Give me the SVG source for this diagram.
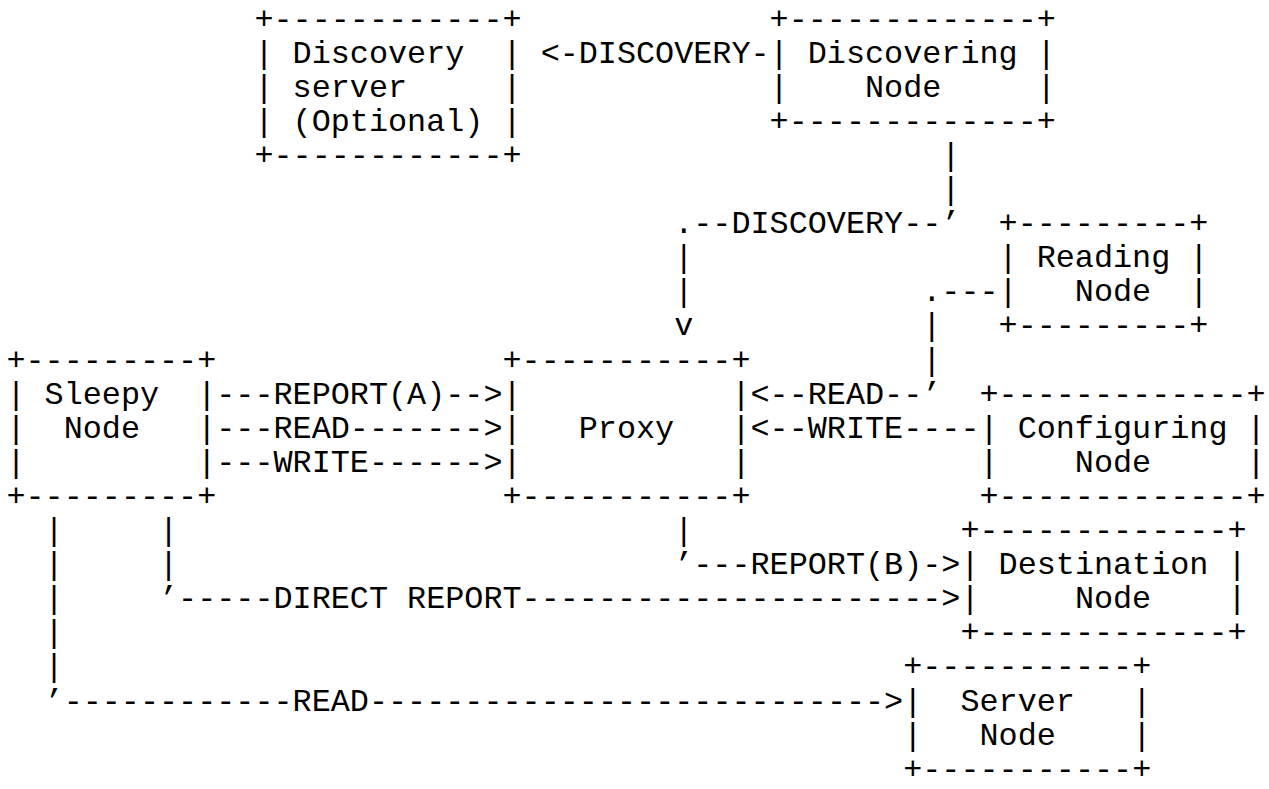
<svg xmlns="http://www.w3.org/2000/svg" width="1269" height="789" viewBox="0 0 1269 789" xml:space="preserve">
<style>
text { font-family: "Liberation Mono", "DejaVu Sans Mono", monospace; font-size: 31.8px; fill: #000; white-space: pre; }
</style>
<rect x="0" y="0" width="1269" height="789" fill="#fff"/>
<g id="discovery-server">
<text x="254.44" y="28.5">+------------+</text>
<text x="254.44" y="62.6">| Discovery  |</text>
<text x="254.44" y="96.7">| server     |</text>
<text x="254.44" y="130.8">| (Optional) |</text>
<text x="254.44" y="164.9">+------------+</text>
</g>
<g id="discovering-node">
<text x="769.6" y="28.5">+-------------+</text>
<text x="769.6" y="62.6">| Discovering |</text>
<text x="769.6" y="96.7">|    Node     |</text>
<text x="769.6" y="130.8">+-------------+</text>
</g>
<g id="reading-node">
<text x="998.56" y="233.1">+---------+</text>
<text x="998.56" y="267.2">| Reading |</text>
<text x="998.56" y="301.3">|   Node  |</text>
<text x="998.56" y="335.4">+---------+</text>
</g>
<g id="sleepy-node">
<text x="6.4" y="369.5">+---------+</text>
<text x="6.4" y="403.6">| Sleepy  |</text>
<text x="6.4" y="437.7">|  Node   |</text>
<text x="6.4" y="471.8">|         |</text>
<text x="6.4" y="505.9">+---------+</text>
</g>
<g id="proxy">
<text x="502.48" y="369.5">+-----------+</text>
<text x="502.48" y="403.6">|           |</text>
<text x="502.48" y="437.7">|   Proxy   |</text>
<text x="502.48" y="471.8">|           |</text>
<text x="502.48" y="505.9">+-----------+</text>
</g>
<g id="configuring-node">
<text x="979.48" y="403.6">+-------------+</text>
<text x="979.48" y="437.7">| Configuring |</text>
<text x="979.48" y="471.8">|    Node     |</text>
<text x="979.48" y="505.9">+-------------+</text>
</g>
<g id="destination-node">
<text x="960.4" y="540">+-------------+</text>
<text x="960.4" y="574.1">| Destination |</text>
<text x="960.4" y="608.2">|     Node    |</text>
<text x="960.4" y="642.3">+-------------+</text>
</g>
<g id="server-node">
<text x="903.16" y="676.4">+-----------+</text>
<text x="903.16" y="710.5">|  Server   |</text>
<text x="903.16" y="744.6">|   Node    |</text>
<text x="903.16" y="778.7">+-----------+</text>
</g>
<g id="connectors">
<text x="540.64" y="62.6">&lt;-DISCOVERY-</text>
<text x="941.32" y="164.9">|</text>
<text x="941.32" y="199">|</text>
<text x="674.2" y="233.1">.--DISCOVERY--’</text>
<text x="674.2" y="267.2">|</text>
<text x="674.2" y="301.3">|</text>
<text x="922.24" y="301.3">.---</text>
<text x="674.2" y="335.4">v</text>
<text x="922.24" y="335.4">|</text>
<text x="922.24" y="369.5">|</text>
<text x="216.28" y="403.6">---REPORT(A)--&gt;</text>
<text x="750.52" y="403.6">&lt;--READ--’</text>
<text x="216.28" y="437.7">---READ-------&gt;</text>
<text x="750.52" y="437.7">&lt;--WRITE----</text>
<text x="216.28" y="471.8">---WRITE------&gt;</text>
<text x="44.56" y="540">|</text>
<text x="159.04" y="540">|</text>
<text x="674.2" y="540">|</text>
<text x="44.56" y="574.1">|</text>
<text x="159.04" y="574.1">|</text>
<text x="674.2" y="574.1">’---REPORT(B)-&gt;</text>
<text x="44.56" y="608.2">|</text>
<text x="159.04" y="608.2">’-----DIRECT REPORT----------------------&gt;</text>
<text x="44.56" y="642.3">|</text>
<text x="44.56" y="676.4">|</text>
<text x="44.56" y="710.5">’------------READ---------------------------&gt;</text>
</g>
</svg>
